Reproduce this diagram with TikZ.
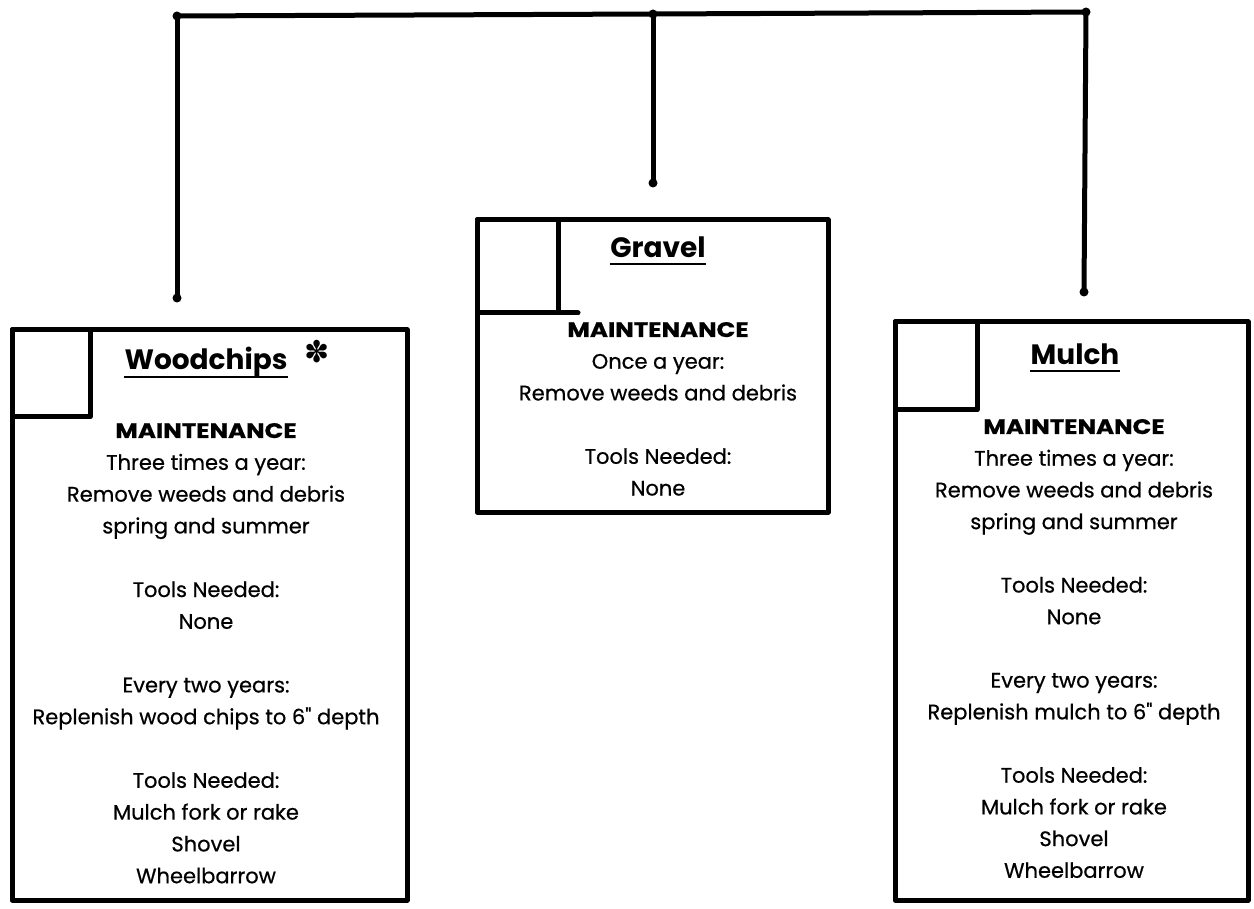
\documentclass[tikz,border=0pt]{standalone}
\usepackage{fontspec}
\usepackage{graphicx}
\setmainfont{Poppins}
\newfontfamily\bodyfont{Poppins}[FakeBold=0.6]
\newfontfamily\symfont{DejaVu Sans}
\newcommand\mhead{\scalebox{1.17}[1]{\bfseries MAINTENANCE}}
\begin{document}
\begin{tikzpicture}[x=1pt,y=-1pt,
  stroke/.style={line width=5pt,line cap=round,line join=round},
  box/.style={draw,stroke,inner sep=0pt,outer sep=0pt,anchor=north west},
  body/.style={inner sep=0pt,anchor=base,font=\bodyfont\fontsize{21}{24}\selectfont},
  title/.style={inner sep=0pt,anchor=base,font=\bfseries\fontsize{28}{30}\selectfont},
  uline/.style={line width=2.5pt},
  blob/.style={fill,circle,inner sep=0pt,minimum size=9pt}]
\useasboundingbox (0,0) rectangle (1254,909);
% connector tree
\coordinate (tl) at (177,16);
\coordinate (tm) at (653,14);
\coordinate (tr) at (1086,12);
\coordinate (dl) at (177,298);
\coordinate (dm) at (653,183);
\coordinate (dr) at (1084,292);
\draw[stroke] (tl) -- (tm) -- (tr);
\draw[stroke] (tl) -- (dl);
\draw[stroke] (tm) -- (dm);
\draw[stroke] (tr) -- (dr);
\foreach \c in {tl,tm,tr,dl,dm,dr} \node[blob] (b-\c) at (\c) {};
% boxes
\node[box,minimum width=395pt,minimum height=570pt] (wood) at (12,330) {};
\node[box,minimum width=78pt,minimum height=87pt] (woodsq) at (wood.north west) {};
\node[box,minimum width=351pt,minimum height=292pt] (grav) at (477,220) {};
\node[box,minimum width=81pt,minimum height=93pt] (gravsq) at (grav.north west) {};
\draw[stroke] (gravsq.south east) -- ++(20,0);
\node[box,minimum width=353pt,minimum height=578pt] (mulch) at (895,322) {};
\node[box,minimum width=82pt,minimum height=88pt] (mulchsq) at (mulch.north west) {};
% titles
\node[title] (wt) at (206,370) {Woodchips};
\draw[uline] ([yshift=-7pt]wt.base west) -- ([yshift=-7pt]wt.base east);
\node[inner sep=0pt,font=\symfont\fontsize{30}{32}\selectfont] (star) at (317,352) {✽};
\node[title] (gt) at (658,258) {Gravel};
\draw[uline] ([yshift=-6pt]gt.base west) -- ([yshift=-6pt]gt.base east);
\node[title] (mt) at (1075,365) {Mulch};
\draw[uline] ([yshift=-6pt]mt.base west) -- ([yshift=-6pt]mt.base east);
% body texts
\foreach \k/\t in {0/\mhead,1/Three times a year:,2/Remove weeds and debris,3/spring and summer,5/Tools Needed:,6/None,8/Every two years:,9/Replenish wood chips to 6" depth,11/Tools Needed:,12/Mulch fork or rake,13/Shovel,14/Wheelbarrow}
  \node[body] (w-\k) at (206,438+31.8*\k) {\t};
\foreach \k/\t in {0/\mhead,1/Once a year:,2/Remove weeds and debris,4/Tools Needed:,5/None}
  \node[body] (g-\k) at (658,337+31.7*\k) {\t};
\foreach \k/\t in {0/\mhead,1/Three times a year:,2/Remove weeds and debris,3/spring and summer,5/Tools Needed:,6/None,8/Every two years:,9/Replenish mulch to 6" depth,11/Tools Needed:,12/Mulch fork or rake,13/Shovel,14/Wheelbarrow}
  \node[body] (m-\k) at (1074,434+31.7*\k) {\t};
\end{tikzpicture}
\end{document}
